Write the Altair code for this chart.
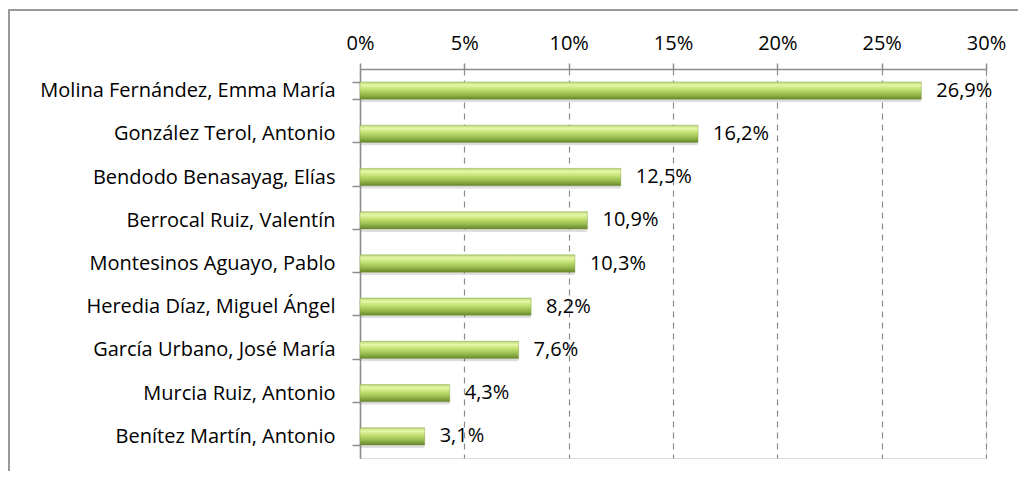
import altair as alt
import pandas as pd

names = [
    "Molina Fernández, Emma María",
    "González Terol, Antonio",
    "Bendodo Benasayag, Elías",
    "Berrocal Ruiz, Valentín",
    "Montesinos Aguayo, Pablo",
    "Heredia Díaz, Miguel Ángel",
    "García Urbano, José María",
    "Murcia Ruiz, Antonio",
    "Benítez Martín, Antonio",
]
values = [26.9, 16.2, 12.5, 10.9, 10.3, 8.2, 7.6, 4.3, 3.1]
x_ticks = [0, 5, 10, 15, 20, 25, 30]

df = pd.DataFrame({
    "name": names,
    "value": values,
    "label": [f"{v:.1f}%".replace(".", ",") for v in values],
})

FONT = "Open Sans"
FS = 20
GREY = "#8c8c8c"

y_enc = alt.Y(
    "name:N", sort=names, title=None,
    scale=alt.Scale(paddingInner=0.6, paddingOuter=0.3),
    axis=alt.Axis(
        domainColor=GREY, domainWidth=1.5, tickColor=GREY, tickWidth=1.5,
        tickSize=8, tickBand="extent", labelPadding=17, labelLimit=0,
        labelFont=FONT, labelFontSize=FS, labelColor="#000000",
    ),
)
x_enc = alt.X(
    "value:Q", title=None,
    scale=alt.Scale(domain=[0, 30], nice=False),
    axis=alt.Axis(
        orient="top", values=x_ticks, labelExpr="datum.value + '%'",
        labelFlush=False, labelOverlap=False,
        domainColor=GREY, domainWidth=1.5, tickColor=GREY, tickWidth=1.5,
        tickSize=6, labelPadding=10, labelFont=FONT, labelFontSize=FS,
        labelColor="#000000", grid=True, gridColor=GREY, gridWidth=1.2,
        gridDash=[6, 5],
    ),
)

grad = alt.Gradient(
    gradient="linear", x1=0, x2=0, y1=0, y2=1,
    stops=[
        alt.GradientStop(color="#b9d676", offset=0),
        alt.GradientStop(color="#e6f7a8", offset=0.18),
        alt.GradientStop(color="#c4e274", offset=0.42),
        alt.GradientStop(color="#98bb4e", offset=0.72),
        alt.GradientStop(color="#67852a", offset=1),
    ],
)

base = alt.Chart(df)

shadow = base.mark_bar(color="#000000", opacity=0.13, yOffset=3, xOffset=1, cornerRadius=2).encode(
    y=y_enc, x=x_enc
)
bars = base.mark_bar(fill=grad, stroke="#7d9a3c", strokeWidth=0.4).encode(
    y=y_enc, x=x_enc
)
text = base.mark_text(
    align="left", baseline="middle", dx=15, font=FONT, fontSize=FS, color="#000000"
).encode(y=y_enc, x=x_enc, text="label:N")

one = pd.DataFrame({"a": [0]})
frame_top = alt.Chart(one).mark_rule(color="#9a9a9a", strokeWidth=2).encode(
    x=alt.value(-352), x2=alt.value(700), y=alt.value(-59)
)
frame_left = alt.Chart(one).mark_rule(color="#9a9a9a", strokeWidth=2).encode(
    x=alt.value(-351), y=alt.value(-60), y2=alt.value(700)
)

chart = alt.layer(frame_top, frame_left, shadow, bars, text).properties(
    width=626, height=389,
    padding={"left": 352, "top": 61, "right": 32, "bottom": 13},
    autosize=alt.AutoSizeParams(type="none"),
).configure_view(stroke=None).configure(background="#ffffff")

chart.save("out.html", embed_options={"renderer": "svg", "actions": False})
